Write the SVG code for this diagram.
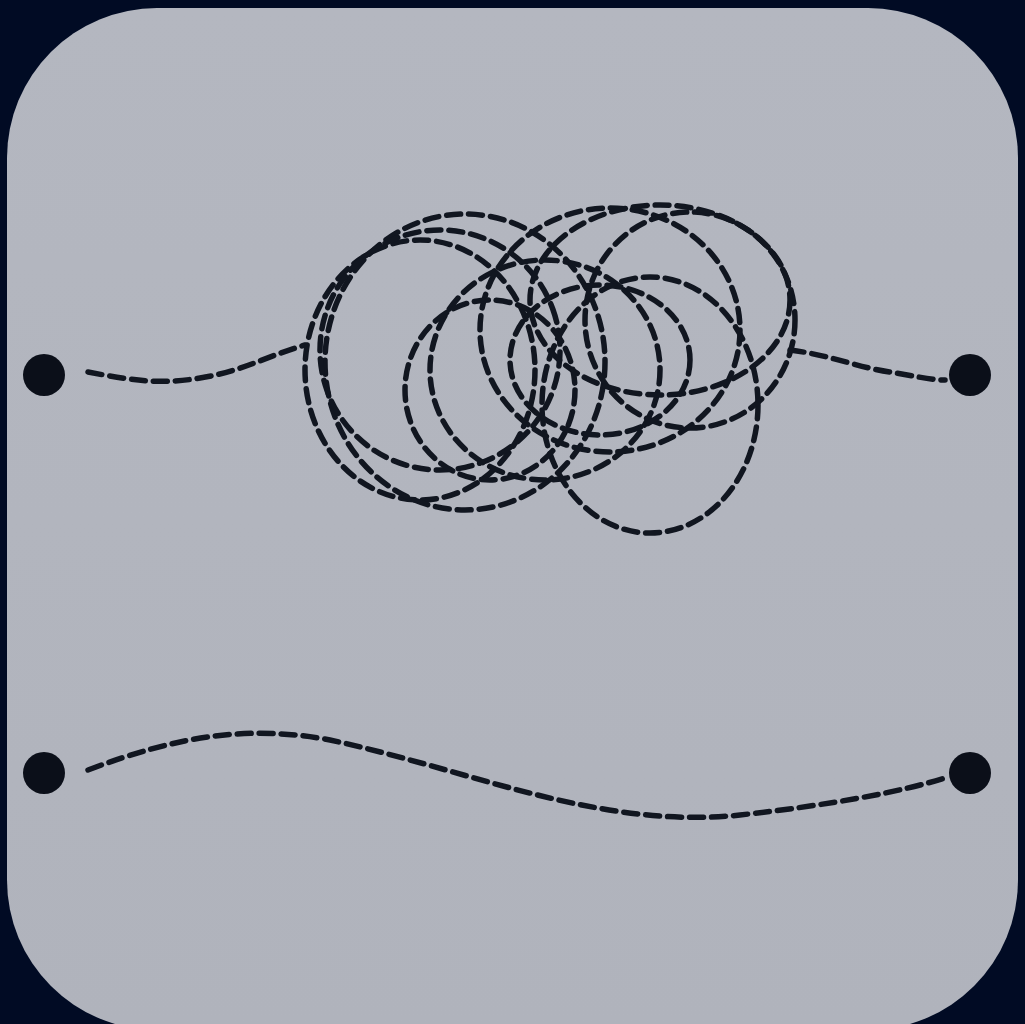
<svg xmlns="http://www.w3.org/2000/svg" width="1025" height="1024" viewBox="0 0 1025 1024">
  <defs>
    <style>
      .rope{fill:none;stroke:#111620;stroke-width:5.5;stroke-dasharray:14 8;stroke-linecap:round}
      .end{fill:#0b0f19}
    </style>
    <linearGradient id="bg" x1="0" y1="0" x2="0" y2="1">
      <stop offset="0" stop-color="#b4b7c0"/>
      <stop offset="1" stop-color="#b0b3bc"/>
    </linearGradient>
  </defs>
  <rect width="1025" height="1024" fill="#010b24"/>
  <rect x="7" y="8" width="1011" height="1022" rx="150" ry="150" fill="url(#bg)"/>
  <g id="connectors">
    <path class="rope" d="M88,372 C130,380 160,385 200,378 C240,372 270,355 305,345"/>
    <ellipse class="rope" cx="420" cy="370" rx="115" ry="130"/>
    <ellipse class="rope" cx="465" cy="362" rx="140" ry="148"/>
    <ellipse class="rope" cx="440" cy="350" rx="120" ry="120" transform="rotate(-20 440 350)"/>
    <ellipse class="rope" cx="545" cy="370" rx="115" ry="110"/>
    <ellipse class="rope" cx="610" cy="330" rx="130" ry="122"/>
    <ellipse class="rope" cx="650" cy="405" rx="108" ry="128"/>
    <ellipse class="rope" cx="690" cy="320" rx="105" ry="108"/>
    <ellipse class="rope" cx="660" cy="300" rx="130" ry="95"/>
    <ellipse class="rope" cx="490" cy="390" rx="85" ry="90"/>
    <ellipse class="rope" cx="600" cy="360" rx="90" ry="75"/>
    <path class="rope" d="M790,350 C830,355 860,368 890,372 C915,376 930,380 945,380"/>
    <path class="rope" d="M88,770 C180,735 250,725 330,740 C470,770 600,830 740,815 C830,805 900,792 945,778"/>
  </g>
  <g id="node-top-left"><circle class="end" cx="44" cy="375" r="21"/></g>
  <g id="node-top-right"><circle class="end" cx="970" cy="375" r="21"/></g>
  <g id="node-bottom-left"><circle class="end" cx="44" cy="773" r="21"/></g>
  <g id="node-bottom-right"><circle class="end" cx="970" cy="773" r="21"/></g>
</svg>
